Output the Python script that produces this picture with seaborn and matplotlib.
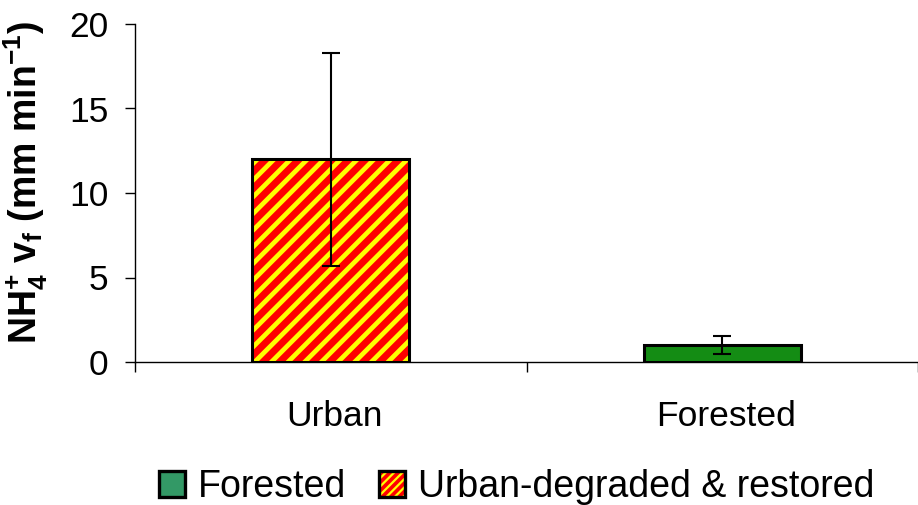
import matplotlib
matplotlib.use("Agg")
import matplotlib.pyplot as plt
from matplotlib.patches import Patch, Rectangle
from matplotlib.legend_handler import HandlerTuple
import seaborn as sns
import pandas as pd

# Data
categories = ["Urban", "Forested"]
means = [12.0, 1.0]
errors = [6.3, 0.55]
legend_labels = ["Forested", "Urban-degraded & restored"]
y_ticks = [0, 5, 10, 15, 20]

RED = "#FF0000"
YELLOW = "#FFFF00"
BAR_GREEN = "#00A000"
KEY_GREEN = "#339966"

sns.set_theme(style="white")
plt.rcParams["font.family"] = ["Liberation Sans", "DejaVu Sans"]
plt.rcParams["mathtext.fontset"] = "custom"
plt.rcParams["mathtext.rm"] = "Liberation Sans"
plt.rcParams["mathtext.it"] = "Liberation Sans:italic"
plt.rcParams["mathtext.bf"] = "Liberation Sans:bold"
plt.rcParams["hatch.linewidth"] = 3.4
plt.rcParams["text.color"] = "black"
plt.rcParams["axes.labelcolor"] = "black"
plt.rcParams["xtick.color"] = "black"
plt.rcParams["ytick.color"] = "black"

fig = plt.figure(figsize=(9.18, 5.05), dpi=100)
left_px, bottom_px, top_px = 135, 362, 24
ax = fig.add_axes([left_px / 918, (505 - bottom_px) / 505,
                   1 - left_px / 918, (bottom_px - top_px) / 505])

df = pd.DataFrame({"site": categories, "vf": means})
sns.barplot(data=df, x="site", y="vf", hue="site", order=categories,
            hue_order=categories, palette=[RED, BAR_GREEN], width=0.4,
            dodge=False, legend=False, errorbar=None, ax=ax,
            edgecolor="black", linewidth=2.2)

# Stripe the urban bar: hatch takes the edge colour, so draw the outline separately
for patch in list(ax.patches):
    cx = patch.get_x() + patch.get_width() / 2
    if abs(cx - 0) < 1e-6:
        patch.set_hatch("//")
        patch.set_facecolor(RED)
        patch.set_edgecolor(YELLOW)
        patch.set_linewidth(0)
        ax.add_patch(Rectangle((patch.get_x(), patch.get_y()), patch.get_width(),
                               patch.get_height(), fill=False, edgecolor="black",
                               linewidth=2.2, zorder=patch.get_zorder() + 0.1))

ax.errorbar(range(len(categories)), means, yerr=errors, fmt="none",
            ecolor="black", elinewidth=1.5, capsize=6.5, capthick=1.5,
            zorder=5)

ax.set_xlim(-0.496, 1.481)
ax.set_ylim(0, 20)
ax.set_yticks(y_ticks)
ax.set_yticklabels([str(t) for t in y_ticks], fontsize=25.5)
ax.set_xticks([i + 0.01 for i in range(len(categories))])
ax.set_xticklabels(categories, fontsize=25.5)
ax.set_xticks([-0.5, 0.5, 1.5], minor=True)
ax.tick_params(axis="x", which="major", length=0, pad=27)
ax.tick_params(axis="x", which="minor", length=7, width=1, color="black",
               direction="out", bottom=True)
ax.tick_params(axis="y", length=7, width=1, color="black", direction="out",
               left=True, pad=12)

for side in ["top", "right"]:
    ax.spines[side].set_visible(False)
ax.spines["left"].set_color("black")
ax.spines["bottom"].set_color("black")
ax.spines["left"].set_linewidth(1)
ax.spines["bottom"].set_linewidth(1)

ax.set_xlabel("")
ax.set_ylabel(r"NH$_\mathbf{4}^\mathbf{+}$ v$_\mathbf{f}$ (mm min$^\mathbf{-1}$)",
              fontsize=27, fontweight="bold", color="black")
ax.yaxis.set_label_coords(-0.1086, 0.53)

# Legend keys
forest_key = Patch(facecolor=KEY_GREEN, edgecolor="black", linewidth=2.4)
plt.rcParams["hatch.linewidth"] = 1.6
urban_key = (Patch(facecolor=RED, edgecolor=YELLOW, linewidth=0, hatch="////"),
             Patch(fill=False, edgecolor="black", linewidth=2.4))
fig.legend([forest_key, urban_key], legend_labels, loc="center",
           bbox_to_anchor=(0.5626, 0.036), ncol=2, frameon=False,
           fontsize=27, handlelength=0.69, handleheight=0.69,
           handletextpad=0.35, columnspacing=0.88,
           handler_map={tuple: HandlerTuple(ndivide=1, pad=0)})

fig.savefig("out.png", dpi=100)
